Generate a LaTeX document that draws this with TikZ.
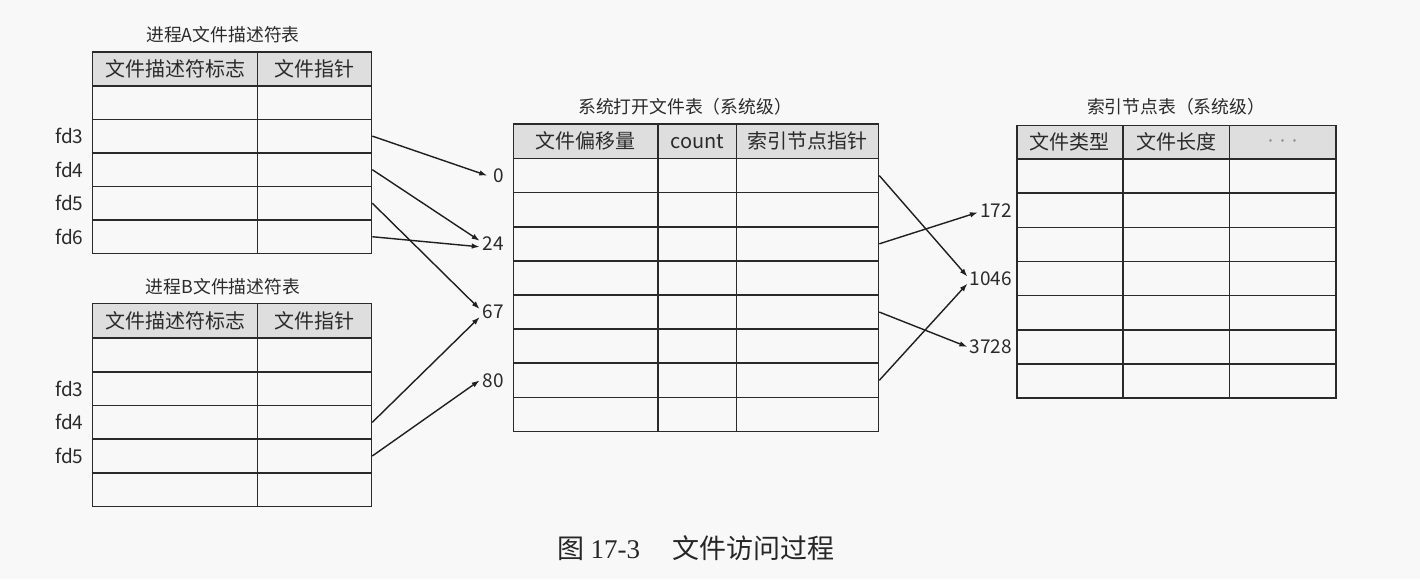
\documentclass[tikz,border=0pt]{standalone}
\usepackage{fontspec}
\setmainfont{Noto Sans CJK SC}
\newfontfamily\serifnum{Liberation Serif}
\usetikzlibrary{arrows.meta}
\definecolor{bgc}{HTML}{F8F8F8}
\definecolor{linec}{HTML}{2A2A2A}
\definecolor{headc}{HTML}{DEDEDE}
\definecolor{textc}{HTML}{2A2A2A}
\definecolor{dotc}{HTML}{8A8A8A}
\begin{document}
\begin{tikzpicture}[x=1pt,y=-1pt,
  cell/.style={draw=linec, line width=1.6pt, inner sep=0pt, anchor=north west,
    text=textc, font=\fontsize{20}{23}\selectfont},
  head/.style={cell, fill=headc},
  ttl/.style={inner sep=0pt, text=textc, font=\fontsize{17.8}{21}\selectfont},
  lab/.style={inner sep=0pt, anchor=east, text=textc, font=\fontsize{19}{22}\selectfont},
  capt/.style={inner sep=0pt, text=black!85, font=\fontsize{27}{31}\selectfont},
  ptr/.style={draw=black!88, line width=1.4pt, -{Latex[length=8pt,width=5.5pt]}}
]
\useasboundingbox (0,0) rectangle (1420,579);
\fill[bgc] (0,0) rectangle (1420,579);

% ---------- Table A ----------
\node[ttl] (tA) at (223,35) {进程A文件描述符表};
\foreach \c/\x/\w/\t in {1/91.7/165/文件描述符标志, 2/256.7/114/文件指针}{
  \node[head, minimum width=\w pt, minimum height=34pt] (A-0-\c) at (\x,51) {\t};
  \foreach \r in {1,...,5}
    \node[cell, minimum width=\w pt, minimum height=33.54pt] (A-\r-\c) at (\x,{85+(\r-1)*33.54}) {};
}
\node[lab] (fdA3) at ([xshift=-8pt]A-2-1.west) {fd3};
\node[lab] (fdA4) at ([xshift=-8pt]A-3-1.west) {fd4};
\node[lab] (fdA5) at ([xshift=-8pt]A-4-1.west) {fd5};
\node[lab] (fdA6) at ([xshift=-8pt]A-5-1.west) {fd6};

% ---------- Table B ----------
\node[ttl] (tB) at (223,287) {进程B文件描述符表};
\foreach \c/\x/\w/\t in {1/91.7/165/文件描述符标志, 2/256.7/114/文件指针}{
  \node[head, minimum width=\w pt, minimum height=34.6pt] (B-0-\c) at (\x,302.7) {\t};
  \foreach \r in {1,...,5}
    \node[cell, minimum width=\w pt, minimum height=33.68pt] (B-\r-\c) at (\x,{337.3+(\r-1)*33.68}) {};
}
\node[lab] (fdB3) at ([xshift=-8pt]B-2-1.west) {fd3};
\node[lab] (fdB4) at ([xshift=-8pt]B-3-1.west) {fd4};
\node[lab] (fdB5) at ([xshift=-8pt]B-4-1.west) {fd5};

% ---------- Middle table ----------
\node[ttl] (tM) at (685,107) {系统打开文件表（系统级）};
\foreach \c/\x/\w/\t in {1/512.7/144.3/文件偏移量, 2/657/78.7/count, 3/735.7/142/索引节点指针}{
  \node[head, minimum width=\w pt, minimum height=34.4pt] (M-0-\c) at (\x,123.3) {\t};
  \foreach \r in {1,...,8}
    \node[cell, minimum width=\w pt, minimum height=34.125pt] (M-\r-\c) at (\x,{157.7+(\r-1)*34.125}) {};
}
\node[lab] (l0)  at ([xshift=-8.5pt]M-1-1.west) {0};
\node[lab] (l24) at ([xshift=-8.5pt]M-3-1.west) {24};
\node[lab] (l67) at ([xshift=-8.5pt]M-5-1.west) {67};
\node[lab] (l80) at ([xshift=-8.5pt]M-7-1.west) {80};

% ---------- Right table ----------
\node[ttl] (tR) at (1176,107) {索引节点表（系统级）};
\foreach \c/\x/\w/\t in {1/1016/106.3/文件类型, 2/1122.3/106.4/文件长度, 3/1228.7/106.3/{\textcolor{dotc}{\fontsize{12}{12}\selectfont ···}}}{
  \node[head, minimum width=\w pt, minimum height=33.6pt] (R-0-\c) at (\x,124.7) {\t};
  \foreach \r in {1,...,7}
    \node[cell, minimum width=\w pt, minimum height=34.14pt] (R-\r-\c) at (\x,{158.3+(\r-1)*34.14}) {};
}
\node[lab] (l172)  at ([xshift=-4pt]R-2-1.west) {172};
\node[lab] (l1046) at ([xshift=-4pt]R-4-1.west) {1046};
\node[lab] (l3728) at ([xshift=-4pt]R-6-1.west) {3728};

% ---------- Arrows ----------
\draw[ptr] (A-2-2.east) -- ([xshift=-6pt]l0.west);
\draw[ptr] (A-3-2.east) -- ([xshift=-3pt,yshift=3pt]l24.west);
\draw[ptr] (A-5-2.east) -- ([xshift=-3pt,yshift=-3pt]l24.west);
\draw[ptr] (A-4-2.east) -- ([xshift=-3pt,yshift=3pt]l67.west);
\draw[ptr] (B-3-2.east) -- ([xshift=-3pt,yshift=-5pt]l67.west);
\draw[ptr] (B-4-2.east) -- ([xshift=-3pt]l80.west);

\draw[ptr] (M-1-3.east) -- ([xshift=-2pt,yshift=2pt]l1046.west);
\draw[ptr] (M-3-3.east) -- ([xshift=-2pt,yshift=-2pt]l172.west);
\draw[ptr] (M-5-3.east) -- ([xshift=-2pt]l3728.west);
\draw[ptr] (M-7-3.east) -- ([xshift=-2pt,yshift=-5pt]l1046.west);

% ---------- Caption ----------
\node[capt] (cap) at (696,548) {图 {\serifnum 17-3}\hspace{1.2em}文件访问过程};
\end{tikzpicture}
\end{document}
